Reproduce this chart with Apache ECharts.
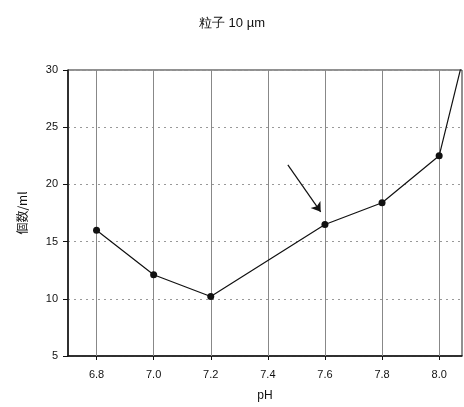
<!DOCTYPE html>
<html><head><meta charset="utf-8">
<script src="https://cdn.jsdelivr.net/npm/echarts@6/dist/echarts.min.js"></script>
<style>html,body{margin:0;padding:0;background:#fff}#c{width:464px;height:407px}</style>
</head><body><div id="c"></div>
<script>
const phValues = [6.8, 7.0, 7.2, 7.6, 7.8, 8.0, 8.08];
const counts = [16.0, 12.1, 10.2, 16.5, 18.4, 22.5, 30.6];
const xTicks = [6.8, 7.0, 7.2, 7.4, 7.6, 7.8, 8.0];
const arrowFrom = [7.47, 21.7];
const arrowTo = [7.585, 17.6];
const titleText = '粒子 10 µm';
const xName = 'pH';
const yName = '個数/ml';

const chart = echarts.init(document.getElementById('c'));
const font = 'Liberation Sans, Arial, sans-serif';
chart.setOption({
  animation: false,
  title: {text: titleText, left: 'center', top: 12, textStyle: {fontFamily: font, fontSize: 13, fontWeight: 'normal', color: '#111'}},
  grid: {left: 68, right: 2, top: 70, bottom: 50, show: true, borderColor: '#222', borderWidth: 1},
  xAxis: {
    type: 'value', min: 6.7, max: 8.08,
    name: xName, nameLocation: 'middle', nameGap: 34,
    nameTextStyle: {fontFamily: font, fontSize: 12, color: '#111'},
    axisLine: {show: true, lineStyle: {color: '#111', width: 1.5}},
    axisTick: {show: true, length: 4, customValues: xTicks, lineStyle: {color: '#111'}},
    axisLabel: {fontFamily: font, fontSize: 11, color: '#111', margin: 13,
      customValues: xTicks, formatter: v => v.toFixed(1)},
    splitLine: {show: false}
  },
  yAxis: {
    type: 'value', min: 5, max: 30, interval: 5,
    name: yName, nameLocation: 'middle', nameGap: 40, nameRotate: 90,
    nameTextStyle: {fontFamily: 'Noto Sans CJK JP, sans-serif', fontSize: 12, color: '#111'},
    axisLine: {show: true, lineStyle: {color: '#111', width: 1.5}},
    axisTick: {show: true, length: 5, lineStyle: {color: '#111'}},
    axisLabel: {fontFamily: font, fontSize: 11, color: '#111', margin: 10},
    splitLine: {show: true, lineStyle: {color: '#999', type: [2, 4], width: 1}}
  },
  series: [{
    type: 'line', data: [], z: 0,
    markLine: {
      silent: true, symbol: 'none', label: {show: false},
      lineStyle: {color: '#888', type: 'solid', width: 1},
      data: xTicks.map(v => ({xAxis: v}))
    }
  }, {
    type: 'line', clip: true, z: 5,
    data: phValues.map((x, i) => [x, counts[i]]),
    symbol: 'circle', symbolSize: (v, p) => p.dataIndex === phValues.length - 1 ? 0 : 7,
    lineStyle: {color: '#111', width: 1.2},
    itemStyle: {color: '#111'},
    markLine: {
      silent: true, symbol: ['none', 'arrow'], symbolSize: 9,
      lineStyle: {color: '#111', type: 'solid', width: 1.2},
      label: {show: false},
      data: [[{coord: arrowFrom}, {coord: arrowTo}]]
    }
  }]
});
</script></body></html>
